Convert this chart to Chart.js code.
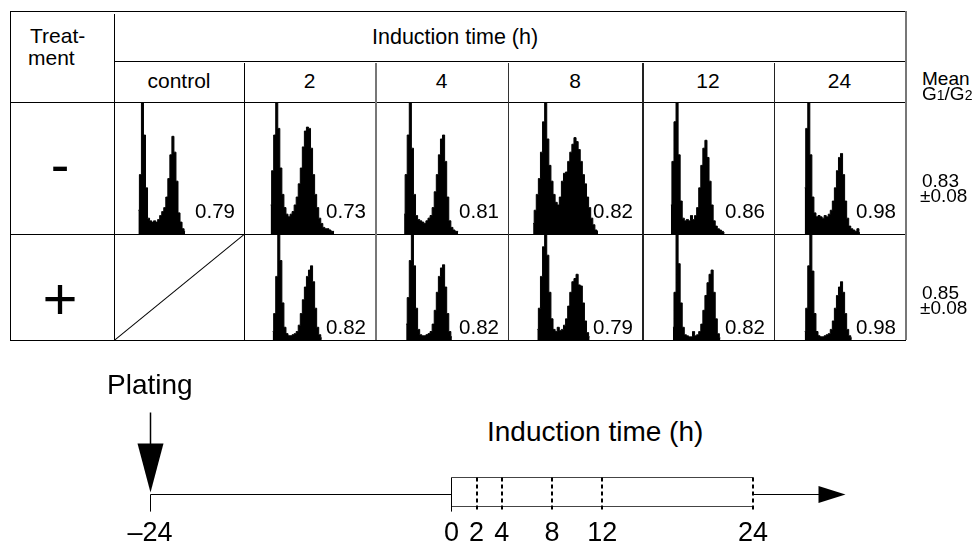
<!DOCTYPE html>
<html>
<head>
<meta charset="utf-8">
<script src="https://cdn.jsdelivr.net/npm/chart.js@4/dist/chart.umd.min.js"></script>
<style>
html, body { margin: 0; padding: 0; background: #fff; }
#fig { position: relative; width: 979px; height: 550px; overflow: hidden; font-family: "Liberation Sans", Arial, sans-serif; color: #000; }
#fig canvas, #fig .t, #fig .rule { position: absolute; }
.t { white-space: nowrap; line-height: 1; }
.t small { font-size: 14px; }
</style>
</head>
<body>
<div id="fig"></div>
<script>
// table content
const columnLabels = ['control', '2', '4', '8', '12', '24']
const treatments = ['-', '+']
const ratioMinus = ['0.79', '0.73', '0.81', '0.82', '0.86', '0.98']
const ratioPlus = [null, '0.82', '0.82', '0.79', '0.82', '0.98']
const meanMinus = ['0.83', '±0.08']
const meanPlus = ['0.85', '±0.08']

// DNA histograms: counts per channel (% of highest channel), first channel in histStart*
const channelCount = 65
const histStartMinus = [12, 13, 14, 12, 14, 15]
const histMinus = [
    [18, 45, 100, 75, 35, 12, 10, 9, 10, 9, 11, 14, 17, 20, 28, 42, 60, 74, 62, 40, 16, 9, 4, 2],
    [22, 48, 75, 100, 80, 50, 30, 20, 15, 13, 15, 17, 22, 28, 38, 50, 66, 78, 81, 80, 65, 45, 30, 20, 12, 8, 5, 4, 4, 3, 2, 2],
    [15, 45, 75, 100, 65, 30, 14, 11, 10, 9, 8, 10, 12, 14, 20, 32, 45, 60, 72, 75, 55, 28, 10, 5, 3, 2, 2],
    [8, 18, 30, 42, 62, 85, 100, 72, 52, 40, 30, 24, 22, 28, 40, 46, 47, 55, 62, 68, 73, 70, 64, 55, 45, 38, 28, 20, 12, 7, 3, 2],
    [22, 55, 85, 100, 60, 25, 12, 10, 11, 10, 14, 11, 14, 20, 35, 52, 65, 71, 58, 40, 22, 10, 6, 4, 3, 2, 1],
    [35, 80, 100, 60, 28, 16, 13, 14, 13, 12, 14, 13, 15, 18, 25, 35, 48, 58, 61, 45, 25, 12, 6, 4, 3, 2, 4, 1]
]
const histStartPlus = [null, 14, 15, 14, 15, 15]
const histPlus = [
    null,
    [8, 25, 60, 100, 75, 35, 12, 6, 4, 4, 5, 6, 8, 14, 25, 38, 50, 60, 66, 70, 55, 30, 12, 5, 2],
    [15, 40, 75, 100, 70, 30, 10, 5, 4, 4, 5, 6, 8, 15, 28, 45, 60, 68, 71, 50, 25, 8, 3],
    [10, 30, 60, 88, 100, 80, 45, 20, 10, 8, 12, 9, 10, 14, 20, 32, 45, 55, 58, 62, 52, 51, 35, 18, 7, 3],
    [12, 45, 100, 72, 35, 12, 5, 4, 3, 3, 8, 4, 5, 8, 15, 28, 42, 54, 62, 66, 45, 20, 6, 2],
    [8, 30, 70, 100, 65, 25, 8, 4, 3, 3, 4, 5, 6, 10, 18, 30, 42, 50, 55, 45, 25, 10, 4, 2]
]

// time line
const platingTime = -24
const inductionTimes = [0, 2, 4, 8, 12, 24]
const timeTicks = [-24, 0, 2, 4, 8, 12, 24]

// layout
const colEdges = [114, 244, 375, 508, 642, 774, 905]
const rowEdges = [102, 234, 340]

Chart.defaults.font.family = '"Liberation Sans", Arial, sans-serif'
Chart.defaults.color = '#000'

const fig = document.getElementById('fig')

function addText(html, x, baseline, size, align) {
    const d = document.createElement('div')
    d.className = 't'
    d.innerHTML = html
    d.style.fontSize = size + 'px'
    d.style.left = x + 'px'
    d.style.top = (baseline - 0.8465 * size) + 'px'
    if (align === 'center') d.style.transform = 'translateX(-50%)'
    if (align === 'right') d.style.transform = 'translateX(-100%)'
    fig.appendChild(d)
}

function addRule(x, y, w, h, color) {
    const d = document.createElement('div')
    d.className = 'rule'
    d.style.left = x + 'px'
    d.style.top = y + 'px'
    d.style.width = w + 'px'
    d.style.height = h + 'px'
    d.style.background = color || '#000'
    fig.appendChild(d)
}

function addCanvas(left, top, width, height) {
    const c = document.createElement('canvas')
    c.width = width
    c.height = height
    c.style.left = left + 'px'
    c.style.top = top + 'px'
    fig.appendChild(c)
    return c
}

const channels = Array.from({ length: channelCount }, (_, i) => i)

function printHistogram(col, row, start, counts) {
    const left = colEdges[col]
    const width = colEdges[col + 1] - colEdges[col]
    const top = rowEdges[row]
    const height = rowEdges[row + 1] - rowEdges[row]
    const canvas = addCanvas(left, top, width, height)

    new Chart(canvas, {
        type: 'line',
        data: {
            labels: channels,
            datasets: [{
                data: new Array(start).fill(null).concat(counts),
                stepped: 'middle',
                fill: 'origin',
                backgroundColor: '#000',
                borderColor: '#000',
                borderWidth: 1,
                pointRadius: 0
            }]
        },
        options: {
            responsive: false,
            animation: false,
            devicePixelRatio: 1,
            events: [],
            layout: { padding: 0 },
            plugins: { legend: { display: false }, tooltip: { enabled: false } },
            scales: {
                x: { display: false },
                y: { display: false, min: 0, max: 100 }
            }
        }
    })
}

histMinus.forEach((counts, i) => printHistogram(i, 0, histStartMinus[i], counts))
histPlus.forEach((counts, i) => { if (counts) printHistogram(i, 1, histStartPlus[i], counts) })

// table rules
const bottom = rowEdges[2]
addRule(10, 10.5, 896, 1)
addRule(114, 60.5, 792, 1)
addRule(10, 101.5, 896, 1)
addRule(10, 233.5, 897, 1.5)
addRule(10, bottom - 0.5, 896, 1)
addRule(9.5, 10.5, 1, bottom - 10)
addRule(113.5, 14, 1, bottom - 14)
addRule(243.5, 63, 1, bottom - 63)
addRule(374.5, 63, 2, bottom - 63, '#777')
addRule(507.5, 63, 1.5, bottom - 63, '#333')
addRule(641.5, 63, 2, bottom - 63, '#222')
addRule(773.5, 63, 1.5, bottom - 63, '#222')
addRule(904.5, 11, 2, bottom - 11, '#777')

// empty control cell for "+"
const diag = document.createElement('div')
diag.className = 'rule'
const dx = colEdges[1] - colEdges[0], dy = rowEdges[2] - rowEdges[1]
diag.style.left = colEdges[0] + 'px'
diag.style.top = rowEdges[2] + 'px'
diag.style.width = Math.hypot(dx, dy) + 'px'
diag.style.height = '1px'
diag.style.background = '#000'
diag.style.transformOrigin = '0 0'
diag.style.transform = 'rotate(' + (-Math.atan2(dy, dx)) + 'rad)'
fig.appendChild(diag)

// table text
addText('Treat-', 30, 43, 21)
addText('ment', 28, 65, 21)
addText('Induction time (h)', 372, 45, 21.5)
columnLabels.forEach((lab, i) => addText(lab, (colEdges[i] + colEdges[i + 1]) / 2, 88, 21, 'center'))
addText(treatments[0], 60, 184.5, 56, 'center')
addText(treatments[1], 60, 320, 60, 'center')
ratioMinus.forEach((r, i) => { if (r) addText(r, colEdges[i + 1] - 9, rowEdges[1] - 15.5, 20.5, 'right') })
ratioPlus.forEach((r, i) => { if (r) addText(r, colEdges[i + 1] - 9, rowEdges[2] - 6, 20.5, 'right') })
addText('Mean', 922, 85, 19)
addText('G<small>1</small>/G<small>2</small>', 922, 100, 19)
addText(meanMinus[0], 922, 187, 19)
addText(meanMinus[1], 920, 202, 19)
addText(meanPlus[0], 922, 299, 19)
addText(meanPlus[1], 920, 314, 19)

// time line text
addText('Plating', 107, 395, 28)
addText('Induction time (h)', 487, 442, 28)

const timelinePlugin = {
    id: 'timeline',
    afterDraw(chart) {
        const ctx = chart.ctx
        const xs = chart.scales.x
        const B = chart.chartArea.bottom
        const px = v => Math.round(xs.getPixelForValue(v)) + 0.5
        const lineY = Math.round(B - 18) + 0.5
        const boxTop = Math.round(B - 35) + 0.5
        const boxBot = Math.round(B - 6) + 0.5
        const t0 = px(inductionTimes[0])
        const tEnd = px(inductionTimes[inductionTimes.length - 1])
        const tp = px(platingTime)

        ctx.save()
        ctx.strokeStyle = '#000'
        ctx.fillStyle = '#000'
        ctx.lineWidth = 1

        // culture line before induction
        ctx.beginPath()
        ctx.moveTo(tp, lineY)
        ctx.lineTo(t0, lineY)
        ctx.moveTo(tp, lineY)
        ctx.lineTo(tp, B)
        ctx.stroke()

        // plating arrow
        ctx.lineWidth = 1.5
        ctx.beginPath()
        ctx.moveTo(tp, lineY - 82)
        ctx.lineTo(tp, lineY - 50)
        ctx.stroke()
        ctx.beginPath()
        ctx.moveTo(tp - 13, lineY - 51)
        ctx.lineTo(tp + 13, lineY - 51)
        ctx.lineTo(tp, lineY - 2)
        ctx.closePath()
        ctx.fill()

        // induction box
        ctx.lineWidth = 1
        ctx.strokeStyle = '#444'
        ctx.beginPath()
        ctx.moveTo(t0, boxTop)
        ctx.lineTo(tEnd, boxTop)
        ctx.moveTo(t0, boxBot)
        ctx.lineTo(tEnd, boxBot)
        ctx.stroke()
        ctx.strokeStyle = '#000'
        ctx.beginPath()
        ctx.moveTo(t0, boxTop)
        ctx.lineTo(t0, B)
        ctx.stroke()

        // sampling times
        ctx.lineWidth = 2
        ctx.setLineDash([4, 3])
        inductionTimes.slice(1).forEach(t => {
            const x = Math.round(xs.getPixelForValue(t))
            ctx.beginPath()
            ctx.moveTo(x, boxTop)
            ctx.lineTo(x, B)
            ctx.stroke()
        })
        ctx.setLineDash([])

        // arrow after induction
        ctx.lineWidth = 1
        ctx.beginPath()
        ctx.moveTo(tEnd, lineY)
        ctx.lineTo(tEnd + 66, lineY)
        ctx.stroke()
        ctx.beginPath()
        ctx.moveTo(tEnd + 65, lineY - 8.5)
        ctx.lineTo(tEnd + 65, lineY + 8.5)
        ctx.lineTo(tEnd + 92, lineY)
        ctx.closePath()
        ctx.fill()
        ctx.restore()
    }
}

new Chart(addCanvas(0, 380, 979, 176), {
    type: 'scatter',
    data: { datasets: [] },
    options: {
        responsive: false,
        animation: false,
        devicePixelRatio: 1,
        events: [],
        layout: { padding: 0 },
        plugins: { legend: { display: false }, tooltip: { enabled: false } },
        scales: {
            x: {
                type: 'linear',
                min: -35.94,
                max: 41.99,
                grid: { display: false, drawTicks: false },
                border: { display: false },
                afterBuildTicks: scale => { scale.ticks = timeTicks.map(v => ({ value: v })) },
                ticks: {
                    autoSkip: false,
                    maxRotation: 0,
                    padding: 6,
                    color: '#000',
                    font: { size: 27 },
                    callback: v => v < 0 ? '\u2013' + (-v) : String(v)
                }
            },
            y: { display: false, min: 0, max: 1 }
        }
    },
    plugins: [timelinePlugin]
})
</script>
</body>
</html>
